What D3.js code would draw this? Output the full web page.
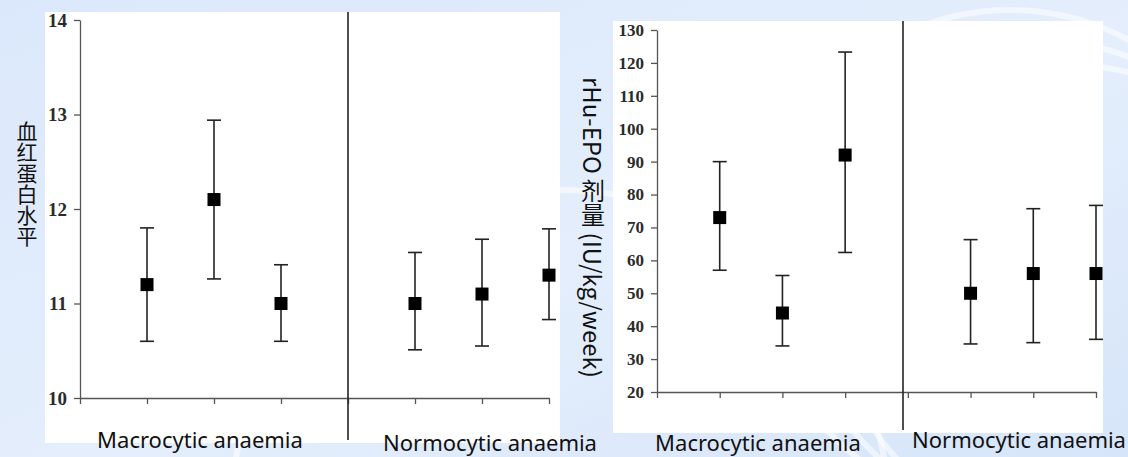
<!DOCTYPE html>
<html>
<head>
<meta charset="utf-8">
<script src="https://cdn.jsdelivr.net/npm/d3@7"></script>
<style>
  body { margin: 0; }
  svg { display: block; }
</style>
</head>
<body>
<svg id="chart" width="1128" height="457"></svg>
<script>
// values
var groups = ["Macrocytic anaemia", "Normocytic anaemia"];
var slots = [1, 2, 3, 5, 6, 7];

var hbMean = [11.2, 12.1, 11.0, 11.0, 11.1, 11.3];
var hbLow  = [10.6, 11.26, 10.6, 10.51, 10.55, 10.83];
var hbHigh = [11.8, 12.94, 11.41, 11.54, 11.68, 11.79];
var hbTicks = [10, 11, 12, 13, 14];

var epoMean = [73, 44, 92, 50, 56, 56];
var epoLow  = [57, 34, 62.4, 34.6, 35, 36];
var epoHigh = [90, 55.4, 123.3, 66.3, 75.7, 76.7];
var epoTicks = [20, 30, 40, 50, 60, 70, 80, 90, 100, 110, 120, 130];

var svg = d3.select("#chart");

// slide background
var defs = svg.append("defs");
var bg = defs.append("linearGradient").attr("id", "bg")
  .attr("x1", 0).attr("y1", 0).attr("x2", 1).attr("y2", 1);
bg.append("stop").attr("offset", "0%").attr("stop-color", "#dbe8fb");
bg.append("stop").attr("offset", "55%").attr("stop-color", "#e4eefc");
bg.append("stop").attr("offset", "100%").attr("stop-color", "#d6e5f9");
svg.append("rect").attr("width", 1128).attr("height", 457).attr("fill", "url(#bg)");

// a few light swooshes like the slide template
[[1010, 260, 250], [1040, 280, 240], [1070, 300, 235], [560, 520, 330]].forEach(function(c){
  svg.append("circle").attr("cx", c[0]).attr("cy", c[1]).attr("r", c[2])
    .attr("fill", "none").attr("stroke", "#ffffff").attr("stroke-opacity", 0.55)
    .attr("stroke-width", 6);
});

function drawPanel(cfg) {
  var g = svg.append("g");
  g.append("rect")
    .attr("x", cfg.box[0]).attr("y", cfg.box[1])
    .attr("width", cfg.box[2] - cfg.box[0]).attr("height", cfg.box[3] - cfg.box[1])
    .attr("fill", "#ffffff");

  var x = d3.scaleLinear().domain([0, 7]).range([cfg.x0, cfg.x1]);
  var y = d3.scaleLinear().domain(cfg.domain).range([cfg.yBottom, cfg.yTop]);

  var yAxis = g.append("g")
    .attr("transform", "translate(" + cfg.x0 + ",0)")
    .call(d3.axisLeft(y).tickValues(cfg.ticks).tickFormat(d3.format("d"))
      .tickSize(6).tickSizeOuter(0).tickPadding(7));
  yAxis.attr("font-family", null).attr("font-size", null);
  yAxis.selectAll("text")
    .style("font-family", "'Liberation Serif', 'Times New Roman', serif")
    .style("font-weight", "bold")
    .style("font-size", cfg.tickFont + "px")
    .attr("fill", "#2a2a2a");

  var xAxis = g.append("g")
    .attr("transform", "translate(0," + cfg.yBottom + ")")
    .call(d3.axisBottom(x).tickValues(d3.range(0, 8)).tickSize(6).tickSizeOuter(0).tickFormat(""));

  g.selectAll(".domain, .tick line").attr("stroke", "#555").attr("stroke-width", 1.3);

  // divider between the two groups
  g.append("line")
    .attr("x1", cfg.divX).attr("x2", cfg.divX)
    .attr("y1", cfg.box[1]).attr("y2", cfg.divBottom)
    .attr("stroke", "#222").attr("stroke-width", 1.6);

  var rows = slots.map(function(s, i){
    return { s: s, m: cfg.mean[i], lo: cfg.low[i], hi: cfg.high[i] };
  });

  var bars = g.selectAll(".bar").data(rows).enter().append("g").attr("class", "bar");
  bars.append("line")
    .attr("x1", function(d){ return x(d.s); }).attr("x2", function(d){ return x(d.s); })
    .attr("y1", function(d){ return y(d.lo); }).attr("y2", function(d){ return y(d.hi); })
    .attr("stroke", "#222").attr("stroke-width", 1.6);
  ["lo", "hi"].forEach(function(k){
    bars.append("line")
      .attr("x1", function(d){ return x(d.s) - 7; }).attr("x2", function(d){ return x(d.s) + 7; })
      .attr("y1", function(d){ return y(d[k]); }).attr("y2", function(d){ return y(d[k]); })
      .attr("stroke", "#222").attr("stroke-width", 1.6);
  });
  bars.append("rect")
    .attr("x", function(d){ return x(d.s) - 6.5; })
    .attr("y", function(d){ return y(d.m) - 6.5; })
    .attr("width", 13).attr("height", 13)
    .attr("fill", "#000");

  groups.forEach(function(name, i){
    g.append("text")
      .attr("x", cfg.labelX[i]).attr("y", cfg.labelY[i])
      .attr("text-anchor", "middle")
      .attr("font-family", "'Noto Sans', 'Open Sans', sans-serif")
      .attr("font-size", 22)
      .attr("fill", "#111")
      .text(name);
  });

  g.append("text")
    .attr("x", cfg.titleX).attr("y", cfg.titleY)
    .style("writing-mode", "vertical-rl")
    .attr("font-family", "'Noto Sans CJK SC', sans-serif")
    .attr("font-size", cfg.titleFont)
    .attr("fill", "#111")
    .text(cfg.title);
}

drawPanel({
  box: [45, 12, 560, 443],
  x0: 80, x1: 549, yTop: 20, yBottom: 398,
  domain: [10, 14], ticks: hbTicks, tickFont: 19,
  mean: hbMean, low: hbLow, high: hbHigh,
  divX: 348, divBottom: 440,
  labelX: [200, 490], labelY: [448, 451],
  title: "血红蛋白水平", titleX: 27, titleY: 121, titleFont: 21
});

drawPanel({
  box: [613, 21, 1103, 433],
  x0: 657, x1: 1096, yTop: 30, yBottom: 392,
  domain: [20, 130], ticks: epoTicks, tickFont: 17,
  mean: epoMean, low: epoLow, high: epoHigh,
  divX: 903, divBottom: 430,
  labelX: [758, 1019], labelY: [451, 448],
  title: "rHu-EPO 剂量 (IU/kg/week)", titleX: 593, titleY: 77, titleFont: 24
});
</script>
</body>
</html>
